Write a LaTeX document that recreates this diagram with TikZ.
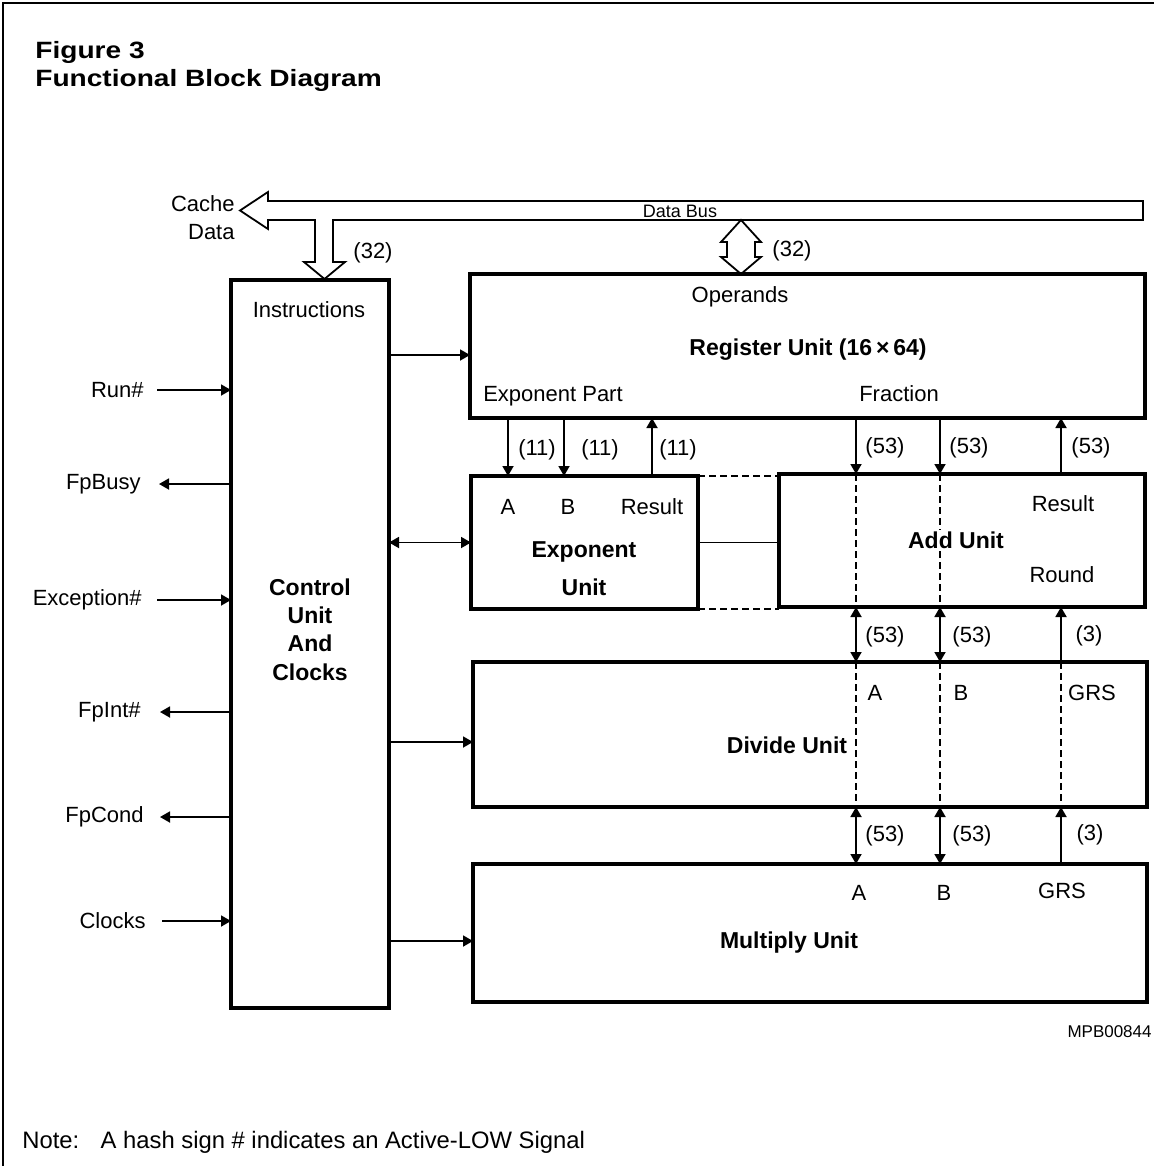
\documentclass[tikz,border=0pt]{standalone}
\usepackage{fontspec}
\setmainfont{Liberation Sans}
\usetikzlibrary{arrows.meta}
\begin{document}
\begin{tikzpicture}[x=0.5pt,y=-0.5pt,
  box/.style={draw, line width=1.6pt, inner sep=0pt, outer sep=0pt},
  lbl/.style={font=\fontsize{11}{13}\selectfont, inner sep=1pt},
  blbl/.style={font=\bfseries\fontsize{11.5}{14}\selectfont, inner sep=1pt},
  conn/.style={line width=0.9pt},
  arr/.style={conn, -{Triangle[length=5pt,width=5.5pt]}},
  darr/.style={conn, {Triangle[length=5pt,width=5.5pt]}-{Triangle[length=5pt,width=5.5pt]}},
  dsh/.style={line width=0.6pt, dash pattern=on 3.5pt off 2pt},
  hollow/.style={line width=0.9pt, line join=miter}
]
\useasboundingbox (0,0) rectangle (1154,1166);
% frame
\draw[line width=0.9pt] (3,1166) -- (3,3) -- (1154,3);
% title
\node[anchor=base west, inner sep=0pt, font=\bfseries\fontsize{11.8}{14}\selectfont] (fig) at (35,59) {\scalebox{1.19}[1]{Figure 3}};
\node[anchor=base west, inner sep=0pt, font=\bfseries\fontsize{11.8}{14}\selectfont] (ttl) at (35,87) {\scalebox{1.19}[1]{Functional Block Diagram}};

% boxes
\node[box, minimum width=79pt, minimum height=364pt] (ctrl) at (310,644) {};
\node[box, minimum width=337.5pt, minimum height=72pt] (reg) at (807.5,346) {};
\node[box, minimum width=113.5pt, minimum height=66.5pt] (exp) at (584.5,542.5) {};
\node[box, minimum width=183pt, minimum height=66.5pt] (add) at (962,540.5) {};
\node[box, minimum width=337pt, minimum height=72.5pt] (div) at (810,734.5) {};
\node[box, minimum width=337pt, minimum height=69pt] (mul) at (810,933) {};

% exponent <-> add links
\draw[dsh] (exp.north east) -- (add.west |- exp.north east);
\draw[dsh] (exp.south east) -- (add.west |- exp.south east);
\draw[conn] (exp.east) -- (add.west |- exp.east);

% dashed pass-throughs
\draw[dsh] (add.north -| 856,0) -- (add.south -| 856,0);
\draw[dsh] (add.north -| 940,0) -- (add.south -| 940,0);
\draw[dsh] (div.north -| 856,0) -- (div.south -| 856,0);
\draw[dsh, line width=1pt] (div.north -| 940,0) -- (div.south -| 940,0);
\draw[dsh] (div.north -| 1061,0) -- (div.south -| 1061,0);

% control texts
\node[lbl] (instr) at (309,310) {Instructions};
\node[blbl] (c1) at (310,587) {Control};
\node[blbl] (c2) at (310,615) {Unit};
\node[blbl] (c3) at (310,643) {And};
\node[blbl] (c4) at (310,672) {Clocks};

% register texts
\node[lbl] (oper) at (740,297) {Operands};
\node[blbl] (regt) at (808,350) {Register Unit (16\,×\,64)};
\node[lbl] (expp) at (553,396) {Exponent Part};
\node[lbl] (frac) at (899,394) {Fraction};

% exponent unit texts
\node[lbl] (ea) at (508,507) {A};
\node[lbl] (eb) at (568,507) {B};
\node[lbl] (er) at (652,507) {Result};
\node[blbl] (et1) at (584,552) {Exponent};
\node[blbl] (et2) at (584,587) {Unit};

% add unit texts
\node[lbl] (ar) at (1063,504) {Result};
\node[blbl, fill=white] (at) at (956,540) {Add Unit};
\node[lbl] (ard) at (1062,575) {Round};

% divide unit texts
\node[lbl] (da) at (875,693) {A};
\node[lbl] (db) at (961,693) {B};
\node[lbl] (dg) at (1092,693) {GRS};
\node[blbl] (dt) at (787,745) {Divide Unit};

% multiply unit texts
\node[lbl] (ma) at (859,893) {A};
\node[lbl] (mb) at (944,893) {B};
\node[lbl] (mg) at (1062,891) {GRS};
\node[blbl] (mt) at (789,943) {Multiply Unit};

% bus (hollow arrow)
\draw[hollow] (240,210.5) -- (268,192) -- (268,201) -- (1143,201) -- (1143,220)
  -- (333,220) -- (333,262) -- (345,262) -- (324.5,279) -- (304,262) -- (315,262)
  -- (315,220) -- (268,220) -- (268,229) -- cycle;
\node[font=\fontsize{9}{10}\selectfont, inner sep=0pt, anchor=base] (dbus) at (680,218) {Data Bus};
\node[lbl] (w32a) at (373,253) {(32)};
% double hollow arrow data bus <-> register
\draw[hollow] (741,220) -- (761,242) -- (755,242) -- (755,257) -- (761,257) -- (741,274)
  -- (721,257) -- (727,257) -- (727,242) -- (721,242) -- cycle;
\node[lbl] (w32b) at (792,251) {(32)};
\node[lbl, anchor=east] (cache) at (237,204) {Cache};
\node[lbl, anchor=east] (cdata) at (237,232) {Data};

% control connections
\draw[arr] (ctrl.east |- 0,355) -- (reg.west |- 0,355);
\draw[darr] (ctrl.east |- exp.west) -- (exp.west);
\draw[arr] (ctrl.east |- 0,742) -- (div.west |- 0,742);
\draw[arr] (ctrl.east |- 0,941) -- (mul.west |- 0,941);

% left signals
\node[lbl, anchor=east, inner sep=0pt] (run) at (144,390) {Run\#};
\node[lbl, anchor=east, inner sep=0pt] (busy) at (141,484) {FpBusy};
\node[lbl, anchor=east, inner sep=0pt] (exc) at (142,600) {Exception\#};
\node[lbl, anchor=east, inner sep=0pt] (fpint) at (141,712) {FpInt\#};
\node[lbl, anchor=east, inner sep=0pt] (fpc) at (144,817) {FpCond};
\node[lbl, anchor=east, inner sep=0pt] (clk) at (146,921) {Clocks};
\draw[arr] ([xshift=6.5pt]run.east) -- (ctrl.west |- run.east);
\draw[arr] (ctrl.west |- busy.east) -- ([xshift=9pt]busy.east);
\draw[arr] ([xshift=7.5pt]exc.east) -- (ctrl.west |- exc.east);
\draw[arr] (ctrl.west |- fpint.east) -- ([xshift=9.5pt]fpint.east);
\draw[arr] (ctrl.west |- fpc.east) -- ([xshift=8pt]fpc.east);
\draw[arr] ([xshift=8pt]clk.east) -- (ctrl.west |- clk.east);

% exponent connections
\draw[arr] (reg.south -| 508,0) -- (exp.north -| 508,0);
\draw[arr] (reg.south -| 564,0) -- (exp.north -| 564,0);
\draw[arr] (exp.north -| 652,0) -- (reg.south -| 652,0);
\node[lbl] (e11a) at (537,450) {(11)};
\node[lbl] (e11b) at (600,450) {(11)};
\node[lbl] (e11c) at (678,450) {(11)};

% fraction connections
\draw[arr] (reg.south -| 856,0) -- (add.north -| 856,0);
\draw[arr] (reg.south -| 940,0) -- (add.north -| 940,0);
\draw[arr] (add.north -| 1061,0) -- (reg.south -| 1061,0);
\node[lbl] (f53a) at (885,448) {(53)};
\node[lbl] (f53b) at (969,448) {(53)};
\node[lbl] (f53c) at (1091,448) {(53)};

% add <-> divide
\draw[darr] (add.south -| 856,0) -- (div.north -| 856,0);
\draw[darr] (add.south -| 940,0) -- (div.north -| 940,0);
\draw[arr] (div.north -| 1061,0) -- (add.south -| 1061,0);
\node[lbl] (m53a) at (885,637) {(53)};
\node[lbl] (m53b) at (972,637) {(53)};
\node[lbl] (m3) at (1089,636) {(3)};

% divide <-> multiply
\draw[darr] (div.south -| 856,0) -- (mul.north -| 856,0);
\draw[darr] (div.south -| 940,0) -- (mul.north -| 940,0);
\draw[arr] (mul.north -| 1061,0) -- (div.south -| 1061,0);
\node[lbl] (l53a) at (885,836) {(53)};
\node[lbl] (l53b) at (972,836) {(53)};
\node[lbl] (l3) at (1090,835) {(3)};

% footer
\node[anchor=base east, inner sep=0pt, font=\fontsize{8.5}{10}\selectfont] (mpb) at (1152,1037) {MPB00844};
\node[anchor=base west, inner sep=0pt, font=\fontsize{11.9}{14}\selectfont] (note) at (22,1148) {Note:\hspace{0.9em}A hash sign \# indicates an Active-LOW Signal};
\end{tikzpicture}
\end{document}
